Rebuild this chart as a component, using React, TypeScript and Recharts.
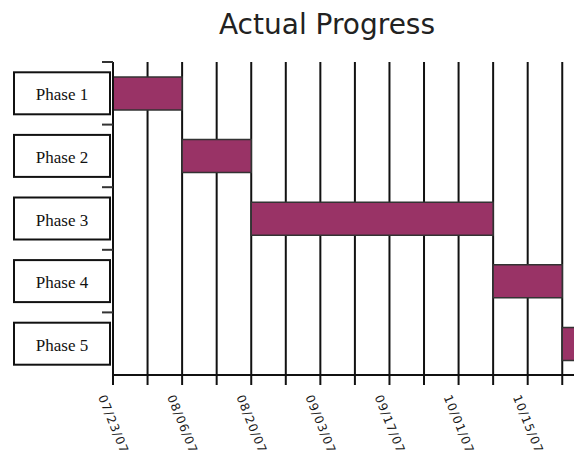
import React from "react";
import { BarChart, Bar, XAxis, YAxis, CartesianGrid } from "recharts";

const phaseNames = ["Phase 1", "Phase 2", "Phase 3", "Phase 4", "Phase 5"];
const phaseStarts = ["07/23/07", "08/06/07", "08/20/07", "10/08/07", "10/22/07"];
const phaseEnds = ["08/06/07", "08/20/07", "10/08/07", "10/22/07", "11/05/07"];
const weekTicks = [
  "07/23/07", "07/30/07", "08/06/07", "08/13/07", "08/20/07", "08/27/07", "09/03/07",
  "09/10/07", "09/17/07", "09/24/07", "10/01/07", "10/08/07", "10/15/07", "10/22/07",
];
const axisStart = "07/23/07";
const axisEnd = "10/26/07";
const title = "Actual Progress";

const toUTC = (s: string) => {
  const [m, d, y] = s.split("/").map(Number);
  return Date.UTC(2000 + y, m - 1, d);
};
const toDay = (s: string) => (toUTC(s) - toUTC(axisStart)) / 86400000;

const data = phaseNames.map((name, i) => ({
  name,
  range: [toDay(phaseStarts[i]), toDay(phaseEnds[i])],
}));
const tickDays = weekTicks.map(toDay);
const tickLabelByDay: Record<number, string> = {};
weekTicks.forEach((t) => (tickLabelByDay[toDay(t)] = t));

const W = 574;
const H = 449;
const M = { top: 54, right: 0, bottom: 0, left: 0 };
const Y_W = 105;
const X_H = 82;
const BAND = (H - M.top - X_H) / phaseNames.length;

const PhaseTick = (props: any) => {
  const { y, payload } = props;
  return (
    <g>
      <line x1={94} x2={Y_W} y1={y - BAND / 2} y2={y - BAND / 2} stroke="#333" strokeWidth={2} />
      <rect x={6} y={y - 21} width={96} height={42} fill="#fff" stroke="#111" strokeWidth={2} />
      <text
        x={54}
        y={y + 7}
        textAnchor="middle"
        fontFamily="'Liberation Serif', 'Times New Roman', serif"
        fontSize={17}
        fill="#111"
      >
        {payload.value}
      </text>
    </g>
  );
};

const DateTick = (props: any) => {
  const { x, y, payload, index } = props;
  if (index % 2 !== 0) return null;
  const ax = x - 15;
  const ay = y + 10;
  return (
    <text
      x={ax}
      y={ay}
      transform={`rotate(68 ${ax} ${ay})`}
      textAnchor="start"
      fontFamily="'DejaVu Sans', sans-serif"
      fontSize={12}
      letterSpacing={1}
      fill="#1a1a1a"
    >
      {tickLabelByDay[payload.value]}
    </text>
  );
};

export default function App() {
  return (
    <div style={{ position: "relative", width: W, height: H, overflow: "hidden" }}>
      <div
        style={{
          position: "absolute",
          left: 0,
          top: 3,
          width: 2 * 319,
          textAlign: "center",
          fontFamily: "'DejaVu Sans', sans-serif",
          fontSize: 28,
          lineHeight: "28px",
          color: "#222",
          whiteSpace: "nowrap",
        }}
      >
        {title}
      </div>
      <BarChart width={W} height={H} data={data} layout="vertical" margin={M} barSize={33}>
        <CartesianGrid horizontal={false} stroke="#111" strokeWidth={2} />
        <XAxis
          type="number"
          domain={[0, toDay(axisEnd)]}
          ticks={tickDays}
          interval={0}
          allowDataOverflow
          height={X_H}
          tickSize={10}
          axisLine={{ stroke: "#111", strokeWidth: 2 }}
          tickLine={{ stroke: "#111", strokeWidth: 2 }}
          tick={<DateTick />}
        />
        <YAxis
          type="category"
          dataKey="name"
          width={Y_W}
          interval={0}
          tickLine={false}
          axisLine={{ stroke: "#111", strokeWidth: 2 }}
          tick={<PhaseTick />}
        />
        <Bar dataKey="range" fill="#993366" stroke="#333" strokeWidth={1.5} isAnimationActive={false} />
      </BarChart>
    </div>
  );
}
